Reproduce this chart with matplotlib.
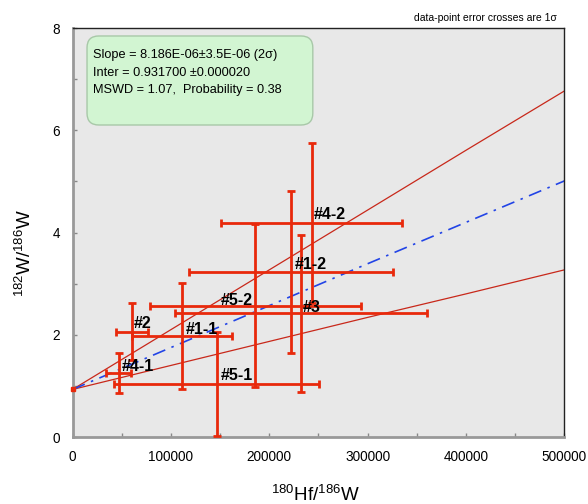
import matplotlib
matplotlib.use("Agg")
import matplotlib.pyplot as plt
from matplotlib.patches import FancyBboxPatch
from matplotlib.ticker import MultipleLocator

plt.rcParams['font.family'] = ['Liberation Sans', 'DejaVu Sans']
plt.rcParams['mathtext.fontset'] = 'custom'
plt.rcParams['mathtext.rm'] = 'Liberation Sans'
plt.rcParams['mathtext.it'] = 'Liberation Sans:italic'

# analyses (1 sigma error crosses)
names = ['#4-2', '#1-2', '#5-2', '#3', '#2', '#1-1', '#4-1', '#5-1']
hf_w = [243100, 222000, 185800, 231900, 60200, 111300, 46800, 146500]
hf_w_err = [92000, 103500, 107200, 128000, 16300, 51100, 12700, 104200]
w_w = [4.19, 3.23, 2.57, 2.42, 2.06, 1.98, 1.26, 1.04]
w_w_err = [1.57, 1.58, 1.59, 1.54, 0.56, 1.04, 0.39, 1.02]

# where the labels sit
label_x = [245400, 226100, 150900, 234300, 62500, 115400, 50300, 150900]
label_y = [4.26, 3.29, 2.58, 2.45, 2.13, 2.01, 1.29, 1.11]

# isochron and its error envelope
line_x = [0, 100000, 200000, 300000, 400000, 500000]
fit_y = [0.93, 1.75, 2.57, 3.39, 4.20, 5.01]
upper_y = [0.93, 2.10, 3.27, 4.44, 5.61, 6.77]
lower_y = [0.93, 1.40, 1.87, 2.34, 2.80, 3.27]

fig = plt.figure(figsize=(5.88, 5.04), dpi=100)
ax = fig.add_axes([0.1233, 0.1329, 0.8367, 0.8115])
ax.set_facecolor('#e8e8e8')

ax.plot(line_x, upper_y, color='#c8281a', lw=0.9, zorder=2)
ax.plot(line_x, lower_y, color='#c8281a', lw=0.9, zorder=2)
ax.plot(line_x, fit_y, color='#2244e6', lw=1.2, ls=(0, (8, 4, 1.5, 4)), zorder=2)
ax.plot([0], [fit_y[0]], marker='s', ms=3.5, color='#e8290b', clip_on=False, zorder=4)

ax.errorbar(hf_w, w_w, xerr=hf_w_err, yerr=w_w_err, fmt='none',
            ecolor='#e8290b', elinewidth=2.0, capsize=3.2, capthick=2.0, zorder=3)

for n, lx, ly in zip(names, label_x, label_y):
    ax.text(lx, ly, n, fontsize=11.5, fontweight='bold', color='black',
            ha='left', va='baseline', zorder=5)

ax.set_xlim(0, 500000)
ax.set_ylim(0, 8)
ax.xaxis.set_major_locator(MultipleLocator(100000))
ax.xaxis.set_minor_locator(MultipleLocator(50000))
ax.yaxis.set_major_locator(MultipleLocator(2))
ax.yaxis.set_minor_locator(MultipleLocator(1))
ax.tick_params(which='both', direction='in', length=3, width=1, color='#888888',
               labelsize=9.8)
ax.tick_params(axis='x', pad=9)
ax.tick_params(axis='y', pad=9)

for s in ['left', 'bottom']:
    ax.spines[s].set_color('#999999')
    ax.spines[s].set_linewidth(2)
for s in ['top', 'right']:
    ax.spines[s].set_color('#222222')
    ax.spines[s].set_linewidth(1)

# stats box
box = FancyBboxPatch((0.148, 0.752), 0.384, 0.1766, transform=fig.transFigure,
                     boxstyle='round,pad=0,rounding_size=0.02',
                     mutation_aspect=588 / 504,
                     facecolor='#d2f5d2', edgecolor='#a8c8a8', lw=1.0, zorder=6)
fig.patches.append(box)
stats = ['Slope = 8.186E-06\u00b13.5E-06 (2\u03c3)',
         'Inter = 0.931700 \u00b10.000020',
         'MSWD = 1.07,  Probability = 0.38']
for txt, yy in zip(stats, [0.884, 0.850, 0.815]):
    fig.text(0.158, yy, txt, fontsize=9.2, ha='left', va='baseline', zorder=7)

fig.text(0.947, 0.959, 'data-point error crosses are 1\u03c3', fontsize=7.5,
         ha='right', va='baseline')

fig.text(0.536, 0.006, r'$^{180}$Hf/$^{186}$W', fontsize=13.5, ha='center', va='baseline')
fig.text(0.042, 0.498, r'$^{182}$W/$^{186}$W', fontsize=13.5, ha='center', va='center',
         rotation=90)

fig.savefig('out.png', dpi=100)
